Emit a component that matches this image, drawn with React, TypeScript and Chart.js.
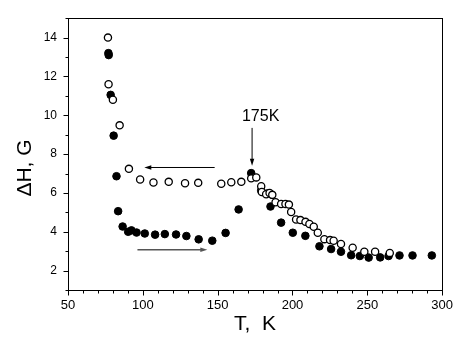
import React, { useEffect, useRef } from "react";
import { Chart, registerables } from "chart.js";

Chart.register(...registerables);

// Heating run (filled circles)
const heatingT = [77, 77.2, 78.5, 80.5, 82.4, 83.5, 86.5, 90.2, 92.4, 95.8, 101.3, 108.2, 114.7, 122.2, 129.1, 137.3, 146.4, 155.3, 164, 172.4, 179.1, 183.5, 185.3, 192.4, 200.2, 208.6, 218, 225.8, 232.4, 239.2, 245, 250.9, 258.6, 264.2, 271.5, 280.2, 293.1];
const heatingDH = [13.2, 13.1, 11.05, 8.95, 6.86, 5.06, 4.27, 4.0, 4.07, 3.96, 3.91, 3.85, 3.88, 3.86, 3.78, 3.61, 3.54, 3.94, 5.15, 7.02, 6.13, 5.98, 5.3, 4.47, 3.95, 3.79, 3.25, 3.11, 2.97, 2.79, 2.75, 2.67, 2.68, 2.75, 2.78, 2.78, 2.78];

// Cooling run (open circles)
const coolingT = [76.7, 77.1, 80, 84.5, 90.7, 98.2, 107.1, 117.3, 128.2, 137, 152.4, 159.1, 165.8, 172.4, 175.8, 179.1, 179.5, 182.4, 184.7, 186.5, 188.7, 192.4, 195.3, 197.6, 199.1, 202.4, 205.3, 208.7, 211.3, 214.2, 216.9, 221.3, 225.1, 227.5, 232.4, 240.2, 248, 255.2, 265];
const coolingDH = [14.0, 11.6, 10.8, 9.48, 7.24, 6.69, 6.54, 6.57, 6.5, 6.52, 6.47, 6.55, 6.57, 6.75, 6.8, 6.35, 6.05, 5.93, 6.0, 5.9, 5.52, 5.43, 5.43, 5.4, 5.02, 4.63, 4.6, 4.51, 4.4, 4.26, 3.95, 3.62, 3.57, 3.54, 3.37, 3.18, 2.97, 2.97, 2.91];

// Axes
const xMin = 50;
const xMax = 300;
const yMin = 1;
const yMax = 15;
const xTicks = [50, 100, 150, 200, 250, 300];
const yTicks = [2, 4, 6, 8, 10, 12, 14];
const xMinorStep = 10;
const yMinorStep = 1;
const xTitle = "T,  K";
const yTitle = "\u0394H, G";

// Annotations (data units)
const peakLabel = "175K";
const peakLabelAt = [178.7, 10.0];
const peakArrow = [[173, 9.35], [173, 7.4]];
const coolArrow = [[148, 7.31], [101, 7.31]];
const heatArrow = [[96.4, 3.07], [143.1, 3.07]];

function drawArrow(ctx: CanvasRenderingContext2D, x1: number, y1: number, x2: number, y2: number, color: string, lw: number) {
  const ang = Math.atan2(y2 - y1, x2 - x1);
  const hl = 7;
  const hw = 2.2;
  ctx.save();
  ctx.strokeStyle = color;
  ctx.fillStyle = color;
  ctx.lineWidth = lw;
  ctx.beginPath();
  ctx.moveTo(x1, y1);
  ctx.lineTo(x2 - Math.cos(ang) * hl * 0.8, y2 - Math.sin(ang) * hl * 0.8);
  ctx.stroke();
  ctx.beginPath();
  ctx.moveTo(x2, y2);
  ctx.lineTo(x2 - Math.cos(ang) * hl - Math.sin(ang) * hw, y2 - Math.sin(ang) * hl + Math.cos(ang) * hw);
  ctx.lineTo(x2 - Math.cos(ang) * hl + Math.sin(ang) * hw, y2 - Math.sin(ang) * hl - Math.cos(ang) * hw);
  ctx.closePath();
  ctx.fill();
  ctx.restore();
}

const decorPlugin = {
  id: "decor",
  afterDraw(chart: any) {
    const { ctx, chartArea: a, scales } = chart;
    const x = scales.x;
    const y = scales.y;
    ctx.save();
    ctx.strokeStyle = "#000";
    ctx.lineWidth = 1;
    // frame
    ctx.strokeRect(Math.round(a.left) + 0.5, Math.round(a.top) + 0.5, Math.round(a.right - a.left), Math.round(a.bottom - a.top));
    const bottom = Math.round(a.bottom) + 0.5;
    const left = Math.round(a.left) + 0.5;
    // x ticks
    for (let v = xMin; v <= xMax + 1e-9; v += xMinorStep) {
      const major = xTicks.includes(v);
      const px = Math.round(x.getPixelForValue(v)) + 0.5;
      ctx.beginPath();
      ctx.moveTo(px, bottom);
      ctx.lineTo(px, bottom + (major ? 5 : 3));
      ctx.stroke();
    }
    // y ticks
    for (let v = yMin; v <= yMax + 1e-9; v += yMinorStep) {
      const major = yTicks.includes(v);
      const py = Math.round(y.getPixelForValue(v)) + 0.5;
      ctx.beginPath();
      ctx.moveTo(left, py);
      ctx.lineTo(left - (major ? 5 : 3), py);
      ctx.stroke();
    }
    // titles
    ctx.fillStyle = "#000";
    ctx.font = "21px 'Liberation Sans', Arial, sans-serif";
    ctx.textAlign = "center";
    ctx.textBaseline = "alphabetic";
    ctx.fillText(xTitle, (a.left + a.right) / 2, 330);
    ctx.save();
    ctx.translate(31, 168);
    ctx.rotate(-Math.PI / 2);
    ctx.fillText(yTitle, 0, 0);
    ctx.restore();
    // peak label
    ctx.font = "16px 'Liberation Sans', Arial, sans-serif";
    ctx.fillText(peakLabel, x.getPixelForValue(peakLabelAt[0]), y.getPixelForValue(peakLabelAt[1]) + 6);
    ctx.restore();
    drawArrow(ctx, x.getPixelForValue(peakArrow[0][0]), y.getPixelForValue(peakArrow[0][1]), x.getPixelForValue(peakArrow[1][0]), y.getPixelForValue(peakArrow[1][1]), "#000", 1);
    drawArrow(ctx, x.getPixelForValue(coolArrow[0][0]), y.getPixelForValue(coolArrow[0][1]), x.getPixelForValue(coolArrow[1][0]), y.getPixelForValue(coolArrow[1][1]), "#000", 1);
    drawArrow(ctx, x.getPixelForValue(heatArrow[0][0]), y.getPixelForValue(heatArrow[0][1]), x.getPixelForValue(heatArrow[1][0]), y.getPixelForValue(heatArrow[1][1]), "#555", 1.5);
  },
};

export default function App() {
  const ref = useRef<HTMLCanvasElement | null>(null);
  useEffect(() => {
    if (!ref.current) return;
    const chart = new Chart(ref.current, {
      type: "scatter",
      data: {
        datasets: [
          {
            label: "cooling",
            data: coolingT.map((t, i) => ({ x: t, y: coolingDH[i] })),
            backgroundColor: "#fff",
            borderColor: "#000",
            borderWidth: 1.3,
            pointRadius: 3.6,
          },
          {
            label: "heating",
            data: heatingT.map((t, i) => ({ x: t, y: heatingDH[i] })),
            backgroundColor: "#000",
            borderColor: "#000",
            borderWidth: 1,
            pointRadius: 3.8,
          },
        ],
      },
      options: {
        animation: false,
        responsive: false,
        devicePixelRatio: 1,
        layout: { padding: { top: 11, right: 18, left: 0, bottom: 0 } },
        plugins: { legend: { display: false }, tooltip: { enabled: false } },
        scales: {
          x: {
            type: "linear",
            min: xMin,
            max: xMax,
            afterBuildTicks: (s: any) => {
              s.ticks = xTicks.map((v) => ({ value: v }));
            },
            afterFit: (s: any) => {
              s.height = 53;
            },
            grid: { display: false, drawTicks: false, tickLength: 0 },
            border: { display: false },
            ticks: {
              color: "#000",
              padding: 8,
              maxRotation: 0,
              font: { family: "'Liberation Sans', Arial, sans-serif", size: 13 },
            },
          },
          y: {
            type: "linear",
            min: yMin,
            max: yMax,
            afterBuildTicks: (s: any) => {
              s.ticks = yTicks.map((v) => ({ value: v }));
            },
            afterFit: (s: any) => {
              s.width = 68;
            },
            grid: { display: false, drawTicks: false, tickLength: 0 },
            border: { display: false },
            ticks: {
              color: "#000",
              padding: 11,
              font: { family: "'Liberation Sans', Arial, sans-serif", size: 12 },
            },
          },
        },
      },
      plugins: [decorPlugin],
    });
    return () => chart.destroy();
  }, []);
  return (
    <div style={{ position: "absolute", left: 0, top: 0, width: 461, height: 343, background: "#fff" }}>
      <canvas ref={ref} width={461} height={343} />
    </div>
  );
}
